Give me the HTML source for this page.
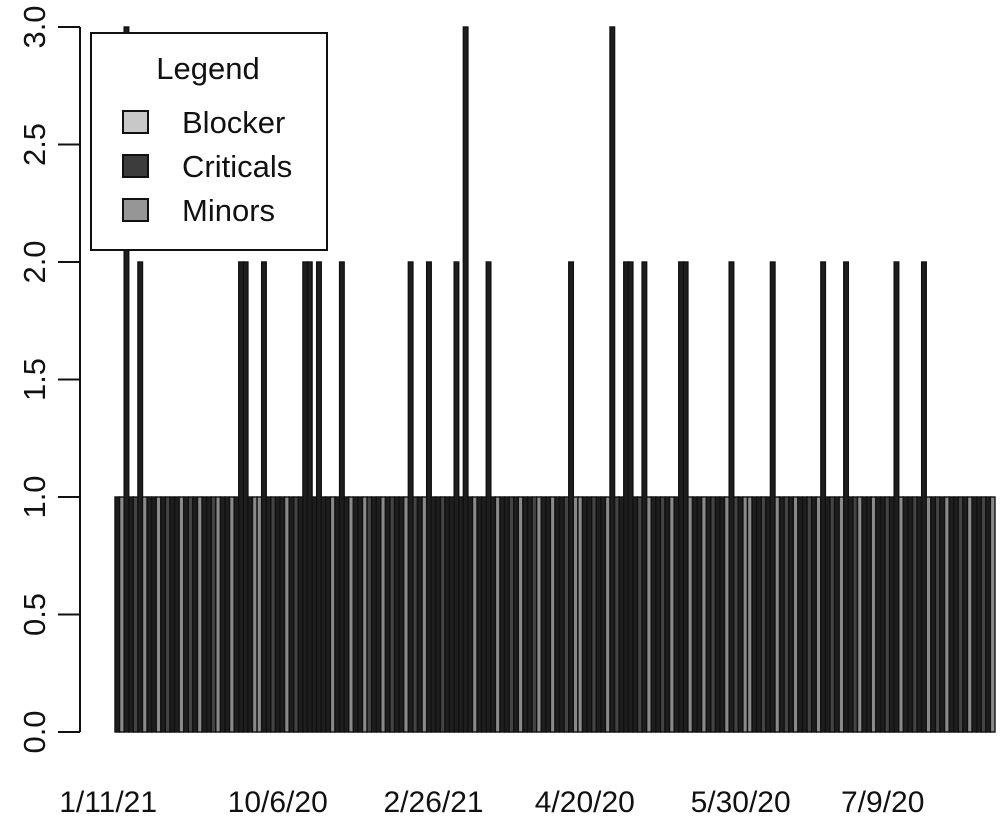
<!DOCTYPE html>
<html><head><meta charset="utf-8"><style>
html,body{margin:0;padding:0;background:#fff;width:1000px;height:823px;overflow:hidden}
svg{display:block}
text{font-family:"Liberation Sans",Arial,sans-serif;fill:#111}
</style></head><body>
<svg id="chart" width="1000" height="823" viewBox="0 0 1000 823"></svg>
<script>
const barCount = 192;
const tallIdx = [2,5,27,28,32,41,42,44,49,64,68,74,76,81,99,108,111,112,115,123,124,134,143,154,159,170,176];
const tallVal = [3,2,2,2,2,2,2,2,2,2,2,2,3,2,2,3,2,2,2,2,2,2,2,2,2,2,2];
const catCodes = "010020100102001020100210010020110020010201002001020100120010200102011002001020100201002010021001002011002001020100201002010021001020010201100200102010020100201002100100201100200102010020100201002";
const yTicks = [0,0.5,1,1.5,2,2.5,3];
const yTickLabels = ["0.0","0.5","1.0","1.5","2.0","2.5","3.0"];
const xLabels = ["1/11/21","10/6/20","2/26/21","4/20/20","5/30/20","7/9/20"];
const xLabelIdx = [-2,35,69,102,136,167];
const legendNames = ["Blocker","Criticals","Minors"];

const NS = "http://www.w3.org/2000/svg";
const svg = document.getElementById('chart');
const X0 = 115, X1 = 995, Y0 = 732, Y3 = 27;
const bw = (X1 - X0) / barCount;
const xs = i => X0 + (i + 0.5) * bw;
const ys = v => Y0 - v * (Y0 - Y3) / 3;
const colors = ["#1e1e1e", "#8a8a8a", "#444"];
function mk(tag, attrs) { const e = document.createElementNS(NS, tag); for (const k in attrs) e.setAttribute(k, attrs[k]); svg.appendChild(e); return e; }

const heights = [];
for (let i = 0; i < barCount; i++) heights.push(1);
tallIdx.forEach((idx, j) => { heights[idx] = tallVal[j]; });

for (let i = 0; i < barCount; i++) {
  const c = heights[i] > 1 ? 0 : +(catCodes[i] || 0);
  const b = mk('rect', {x: xs(i) - bw/2, y: ys(heights[i]), width: bw, height: Y0 - ys(heights[i]), fill: colors[c], stroke: "#111", 'stroke-width': 1.4});
  
  
}

const ax = mk('line', {x1: 80, x2: 80, y1: ys(0), y2: ys(3), stroke: "#111", 'stroke-width': 2});


yTicks.forEach((v, k) => {
  const t = mk('line', {x1: 58, x2: 80, y1: ys(v), y2: ys(v), stroke: "#111", 'stroke-width': 2});
  
  
  const tx = mk('text', {x: 0, y: 0, 'font-size': 31, 'text-anchor': 'middle', transform: `translate(45,${ys(v)}) rotate(-90)`});
  tx.textContent = yTickLabels[k];
  
  
});
xLabels.forEach((l, k) => {
  const tx = mk('text', {x: xs(xLabelIdx[k]), y: 812, 'font-size': 30, 'text-anchor': 'middle'});
  tx.textContent = l;
  
  
});

const lg = mk('rect', {x: 91, y: 33, width: 236, height: 217, fill: "#fff", stroke: "#111", 'stroke-width': 2});


const lt = mk('text', {x: 208, y: 79, 'font-size': 31, 'text-anchor': 'middle'});
lt.textContent = "Legend";


const swatch = ["#c8c8c8", "#3c3c3c", "#969696"];
legendNames.forEach((n, k) => {
  const cy = 122 + k * 44;
  const s = mk('rect', {x: 123, y: cy - 11, width: 25, height: 22, fill: swatch[k], stroke: "#111", 'stroke-width': 2});
  
  
  const t = mk('text', {x: 182, y: cy + 11, 'font-size': 31});
  t.textContent = n;
  
  
});
</script>
</body></html>
